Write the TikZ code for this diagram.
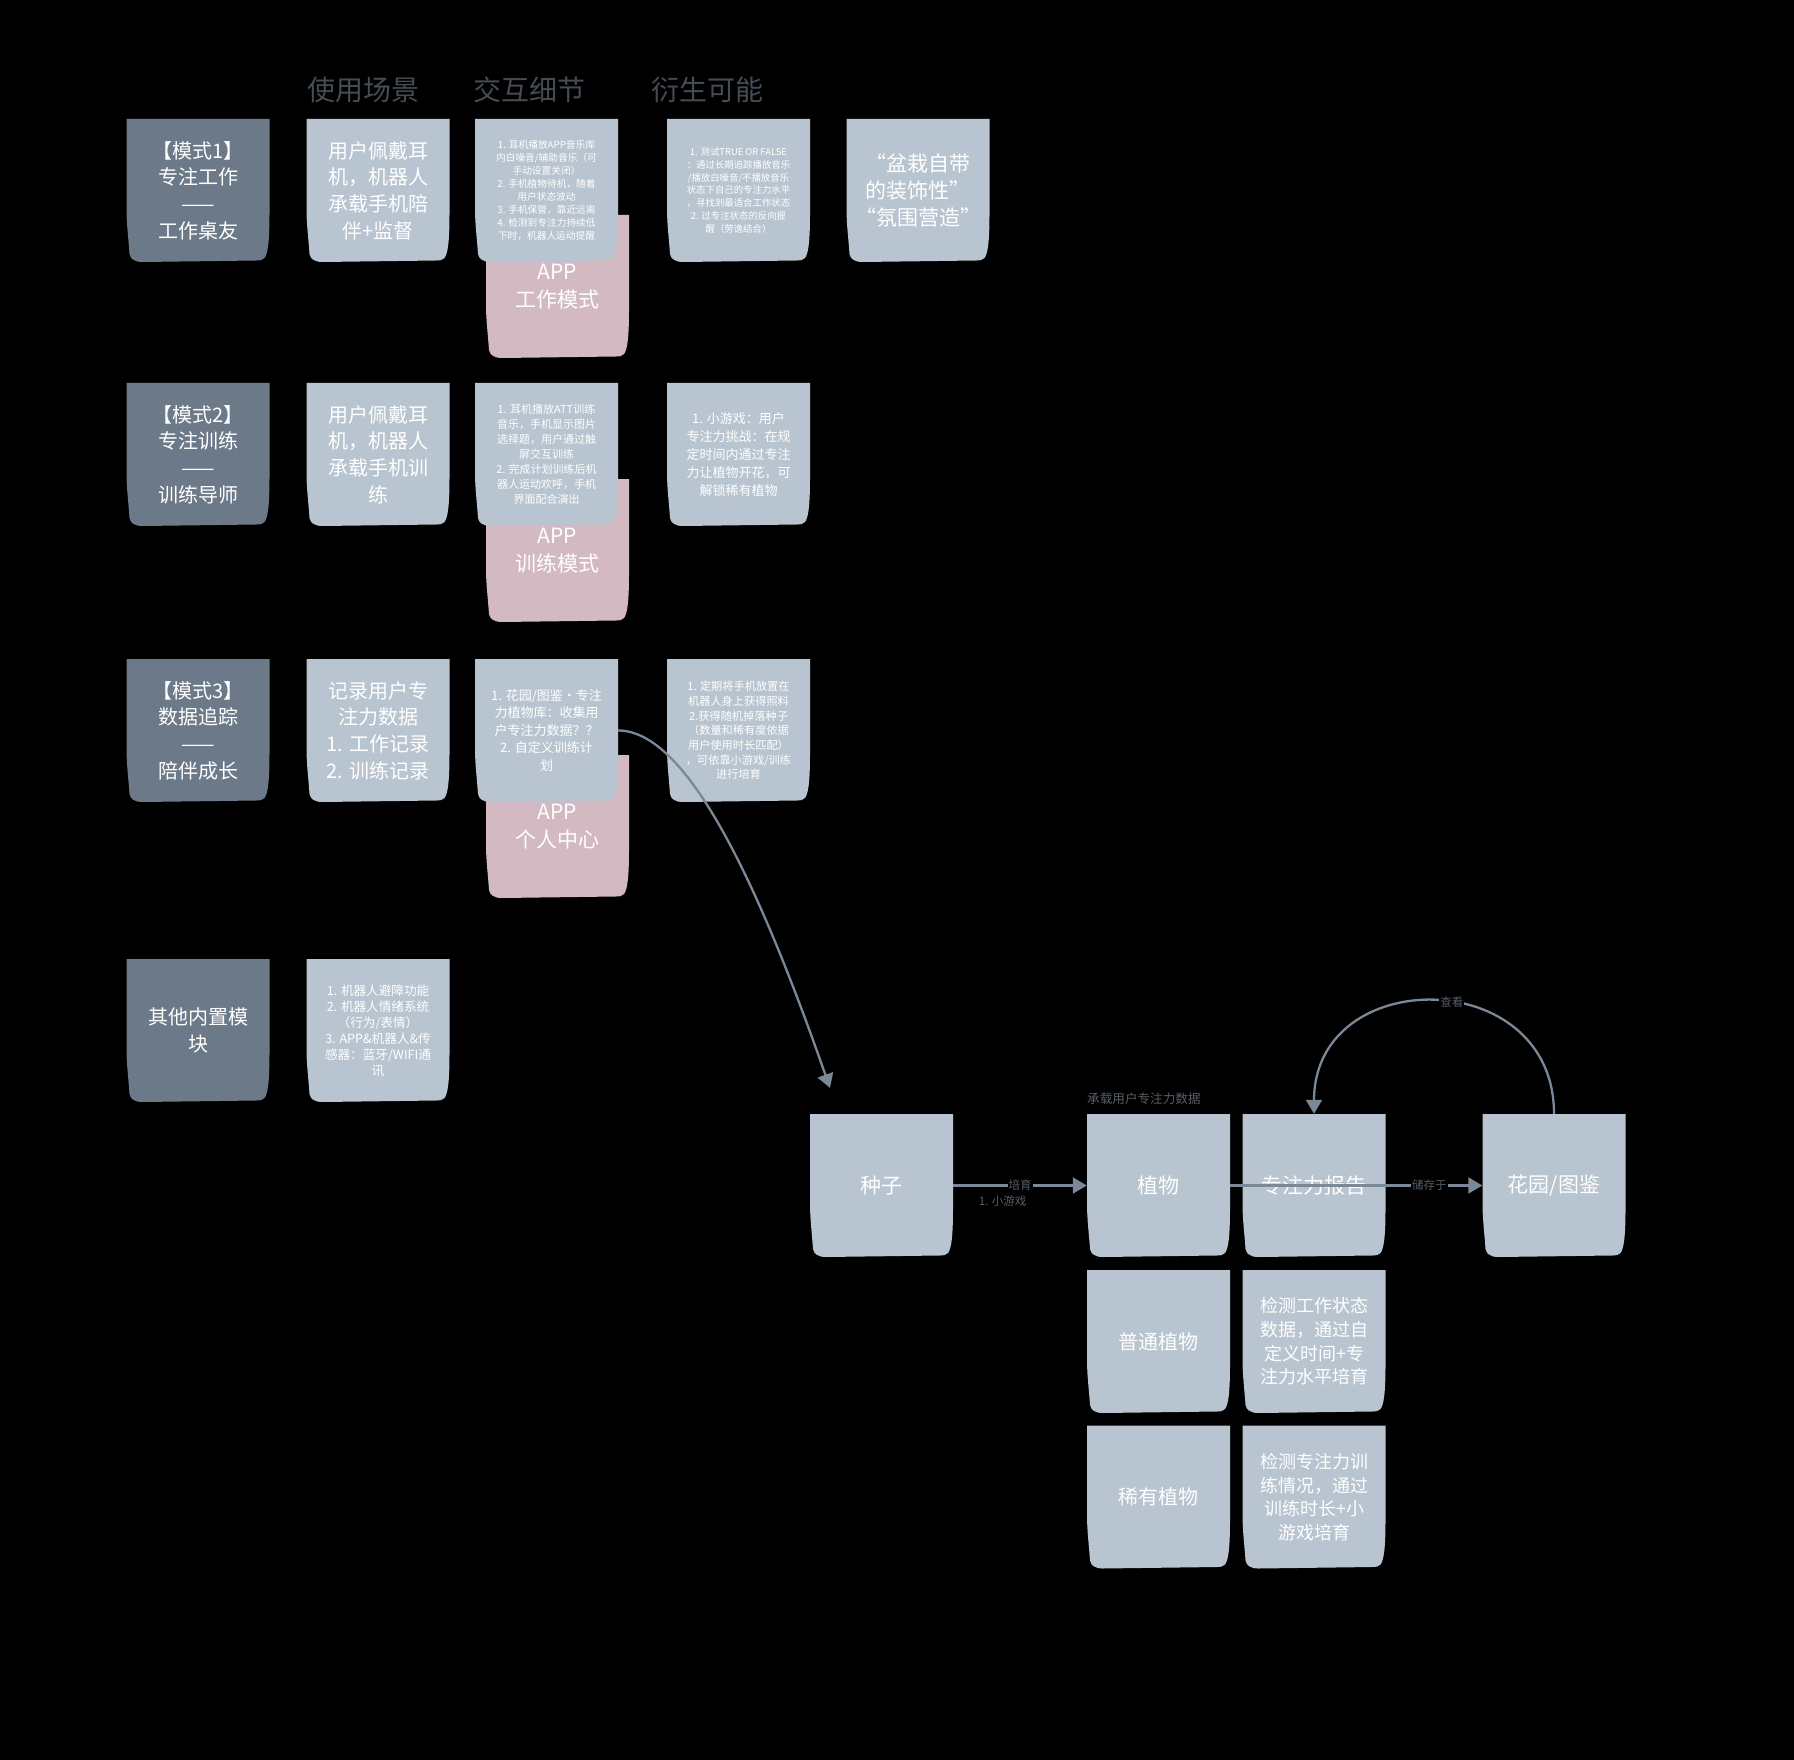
\documentclass[tikz,border=0pt]{standalone}
\usepackage{fontspec}
\setmainfont{Noto Sans CJK SC}
\usepackage{xcolor}
\definecolor{Slate}{RGB}{108,121,136}
\definecolor{Mist}{RGB}{184,196,207}
\definecolor{Rose}{RGB}{211,186,194}
\definecolor{Ink}{RGB}{70,76,84}
\definecolor{Wire}{RGB}{122,136,152}
\definecolor{Hint}{RGB}{88,94,102}
\usepackage{tikz}
\usetikzlibrary{arrows.meta}

% sticky note: fill colour, name, centre, text options, text
\newcommand{\stickynote}[5][Mist]{%
  \begin{scope}[shift={#3}, x=1pt, y=1pt]
    \fill[#1] (-71.5,71.5) -- (71.5,71.5) -- (71.5,-23.5) .. controls (71.5,-53.5) and (69.5,-63.5) .. (66.5,-67.5)
      .. controls (64.5,-69.5) and (62.5,-70) .. (58.5,-70) -- (-55.5,-71.5)
      .. controls (-63.5,-71.5) and (-67.5,-68.5) .. (-68.5,-63.5) .. controls (-69.5,-48.5) and (-71.5,-33.5) .. (-71.5,-18.5) -- cycle;
  \end{scope}
  \node[notetext, #4] (#2) at #3 {#5};}

\tikzset{
  notetext/.style={minimum width=143pt, minimum height=143pt, inner sep=0pt, align=center, text=white},
  txt/.style 2 args={font=\fontsize{#1}{#2}\selectfont},
  head/.style={text=Ink, font=\fontsize{28}{32}\selectfont},
  flow/.style={draw=Wire, line width=2.3pt, -{Triangle[width=16pt,length=14pt]}},
  lbl/.style={fill=black, text=Hint, inner sep=1pt, font=\fontsize{11.5}{13}\selectfont}
}

\begin{document}
\begin{tikzpicture}[x=1pt, y=-1pt]

	% Background
	\fill[black] (0,0) rectangle (1794,1760);
	\useasboundingbox (0,0) rectangle (1794,1760);

	% Headers
	\node[head] (hUse) at (363,90) {使用场景};
	\node[head] (hAct) at (529,90) {交互细节};
	\node[head] (hDer) at (707,90) {衍生可能};

	% Mode 1
	\stickynote[Slate]{mode1}{(198,190.5)}{txt={20}{26.7}}{【模式1】\\专注工作\\——\\工作桌友}
	\stickynote{use1}{(378,190.5)}{txt={20}{26.7}}{用户佩戴耳\\机，机器人\\承载手机陪\\伴+监督}
	\stickynote[Rose]{app1}{(557.5,286.5)}{txt={21}{28}}{APP\\工作模式}
	\stickynote{act1}{(546.5,190.5)}{txt={9.7}{13}}{1. 耳机播放APP音乐库\\内白噪音/辅助音乐（可\\手动设置关闭）\\2. 手机植物待机，随着\\用户状态波动\\3. 手机保管，靠近远离\\4. 检测到专注力持续低\\下时，机器人运动提醒}
	\stickynote{der1}{(738.5,190.5)}{txt={9.4}{12.7}}{1. 测试TRUE OR FALSE\\：通过长期追踪播放音乐\\/播放白噪音/不播放音乐\\状态下自己的专注力水平\\，寻找到最适合工作状态\\2. 过专注状态的反向提\\醒（劳逸结合）}
	\stickynote{deco1}{(918,190.5)}{txt={21}{27}}{“盆栽自带\\的装饰性”\\“氛围营造”}

	% Mode 2
	\stickynote[Slate]{mode2}{(198,454.5)}{txt={20}{26.7}}{【模式2】\\专注训练\\——\\训练导师}
	\stickynote{use2}{(378,454.5)}{txt={20}{26.7}}{用户佩戴耳\\机，机器人\\承载手机训\\练}
	\stickynote[Rose]{app2}{(557.5,550.5)}{txt={21}{28}}{APP\\训练模式}
	\stickynote{act2}{(546.5,454.5)}{txt={11}{14.9}}{1. 耳机播放ATT训练\\音乐，手机显示图片\\选择题，用户通过触\\屏交互训练\\2. 完成计划训练后机\\器人运动欢呼，手机\\界面配合演出}
	\stickynote{der2}{(738.5,454.5)}{txt={13}{18}}{1. 小游戏：用户\\专注力挑战：在规\\定时间内通过专注\\力让植物开花，可\\解锁稀有植物}

	% Mode 3
	\stickynote[Slate]{mode3}{(198,730.5)}{txt={20}{26.7}}{【模式3】\\数据追踪\\——\\陪伴成长}
	\stickynote{use3}{(378,730.5)}{txt={20}{26.7}}{记录用户专\\注力数据\\1. 工作记录\\2. 训练记录}
	\stickynote[Rose]{app3}{(557.5,826.5)}{txt={21}{28}}{APP\\个人中心}
	\stickynote{act3}{(546.5,730.5)}{txt={13}{17.5}}{1. 花园/图鉴·专注\\力植物库：收集用\\户专注力数据？？\\2. 自定义训练计\\划}
	\stickynote{der3}{(738.5,730.5)}{txt={11.2}{14.7}}{1. 定期将手机放置在\\机器人身上获得照料\\2.获得随机掉落种子\\（数量和稀有度依据\\用户使用时长匹配）\\，可依靠小游戏/训练\\进行培育}

	% Other modules
	\stickynote[Slate]{mode4}{(198,1030.5)}{txt={20}{26.7}}{其他内置模\\块}
	\stickynote{use4}{(378,1030.5)}{txt={12.6}{16}}{1. 机器人避障功能\\2. 机器人情绪系统\\（行为/表情）\\3. APP\&机器人\&传\\感器：蓝牙/WIFI通\\讯}

	% Plant growth
	\stickynote{seed}{(881.5,1185.5)}{txt={21}{27}}{种子}
	\stickynote{plant}{(1158.5,1185.5)}{txt={21}{27}}{植物}
	\stickynote{report}{(1314,1185.5)}{txt={21}{27}}{专注力报告}
	\stickynote{garden}{(1554,1185.5)}{txt={21}{27}}{花园/图鉴}
	\stickynote{common}{(1158.5,1341.5)}{txt={20}{26}}{普通植物}
	\stickynote{rare}{(1158.5,1497)}{txt={20}{26}}{稀有植物}
	\stickynote{workchk}{(1314,1341.5)}{txt={18}{23.7}}{检测工作状态\\数据，通过自\\定义时间+专\\注力水平培育}
	\stickynote{trainchk}{(1314,1497)}{txt={18}{23.7}}{检测专注力训\\练情况，通过\\训练时长+小\\游戏培育}
	\node[lbl, anchor=west, inner sep=0pt, font=\fontsize{12.6}{14}\selectfont] (carry) at (1087,1099) {承载用户专注力数据};

	% Flows
	\coordinate (seedin) at (830,1088);
	\draw[flow] (act3.east) .. controls +(70,0) and +(-70,-200) .. (seedin);
	\draw[flow] (seed) -- node[lbl] (growlbl) {培育} node[lbl, pos=0.37, below=8pt] (gamelbl) {1. 小游戏} (plant);
	\draw[flow] (plant) -- node[lbl, pos=0.79] (storelbl) {储存于} (garden);
	\draw[flow] (garden.north) .. controls +(0,-150) and +(0,-150) .. node[lbl, pos=0.45] (viewlbl) {查看} (report.north);

\end{tikzpicture}
\end{document}
